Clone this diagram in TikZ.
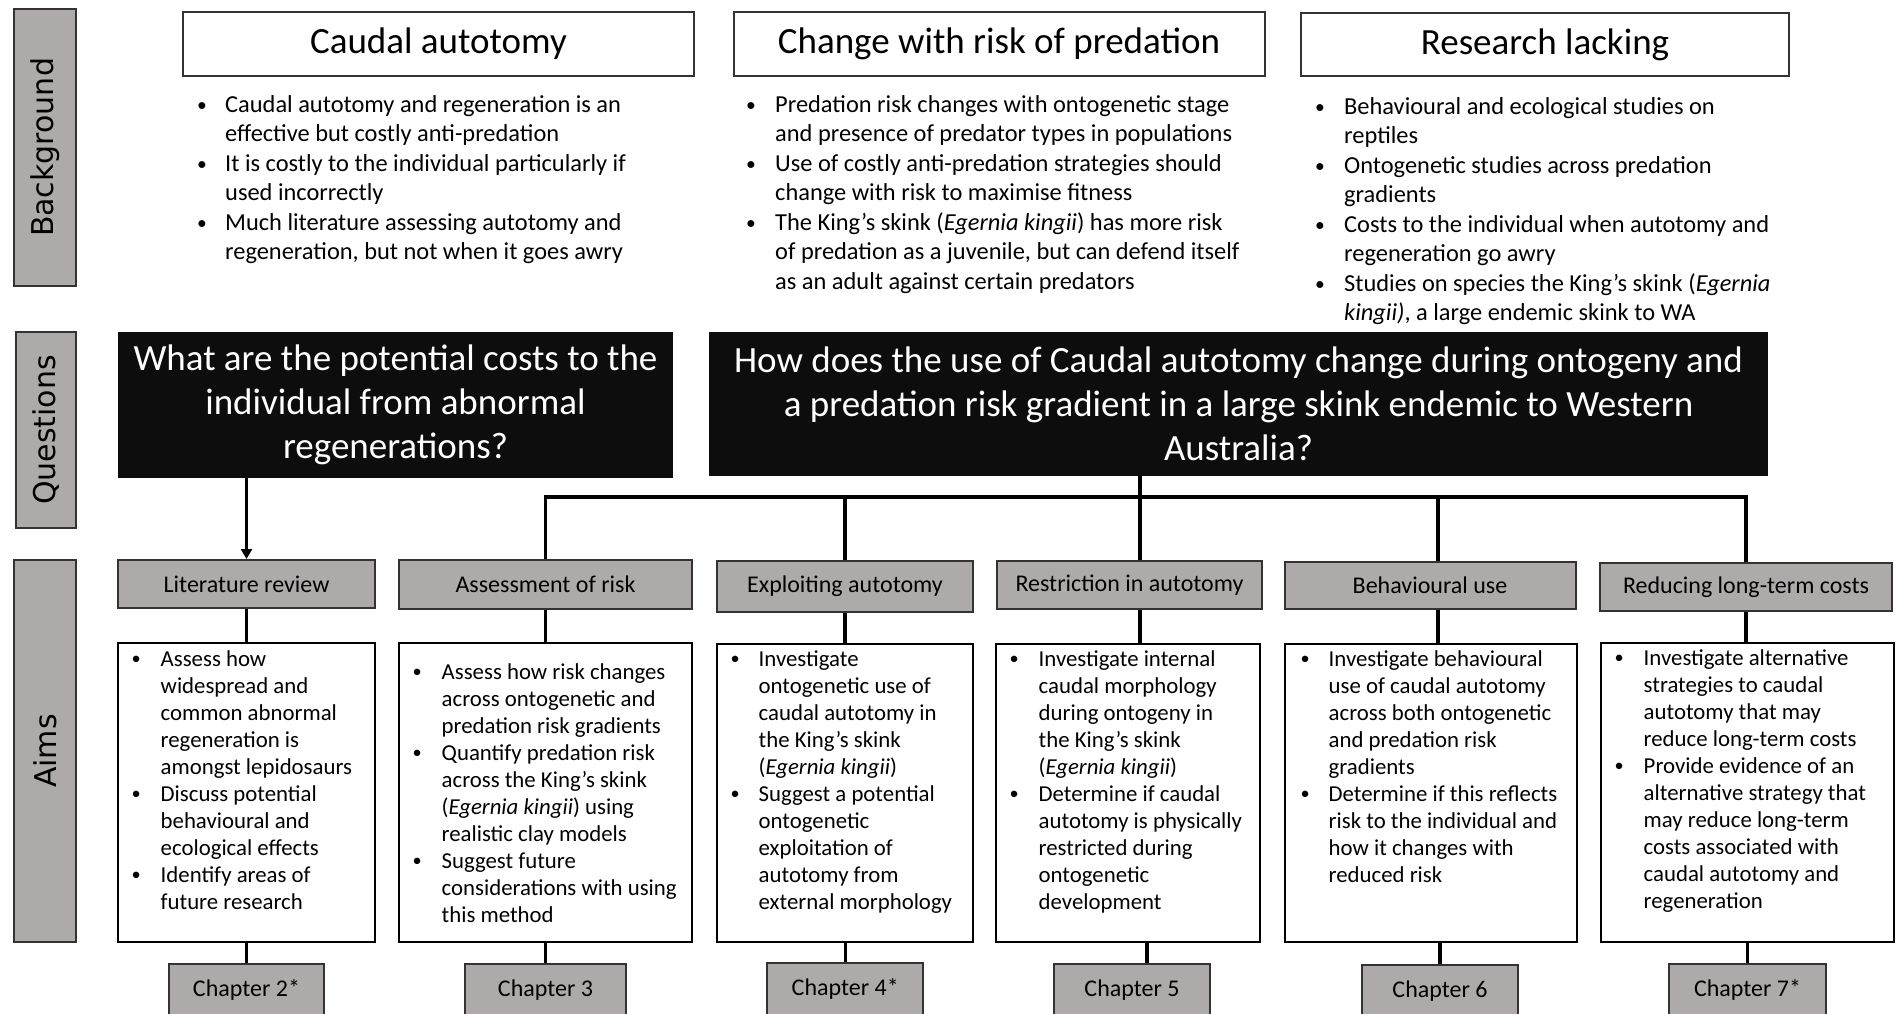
\documentclass[tikz,border=0pt]{standalone}
\usepackage{fontspec}
\setmainfont{Carlito}
\newfontfamily\lblfont{DejaVu Sans}
\usetikzlibrary{arrows.meta}
\definecolor{boxgray}{HTML}{AEAAAA}
\definecolor{qblack}{HTML}{0D0D0D}
\definecolor{edgegray}{HTML}{333333}
\newcommand\fsBg{\fontsize{24.4}{29.5}\selectfont}
\newcommand\fsHd{\fontsize{37}{44}\selectfont}
\newcommand\fsAim{\fontsize{22.8}{27}\selectfont}
\newcommand\fsAh{\fontsize{24}{29}\selectfont}
\newcommand\fsLbl{\fontsize{30}{36}\selectfont}
\newcommand\blist[2]{\begin{tabular}[t]{@{}p{#1}@{}l@{}}#2\end{tabular}}
\newcommand\bu{\raisebox{0.06em}{\scalebox{0.8}{•}}}
\tikzset{
  lbl/.style={rotate=90, draw=edgegray, line width=2.5pt, fill=boxgray, inner sep=0pt, font=\lblfont\fsLbl},
  hdr/.style={draw=edgegray, line width=2pt, fill=white, inner sep=0pt, font=\fsHd},
  qbox/.style={fill=qblack, text=white, inner sep=0pt, align=center, font=\fsHd},
  aimhead/.style={draw=edgegray, line width=2pt, fill=boxgray, inner sep=0pt, font=\fsAh},
  aimbox/.style={draw=black, line width=2pt, fill=white, inner sep=0pt},
  chap/.style={draw=edgegray, line width=2pt, fill=boxgray, inner sep=0pt, font=\fsAh},
  bultext/.style={anchor=base west, inner sep=0pt},
  conn/.style={line width=3.2pt, black},
}
\begin{document}
\begin{tikzpicture}[x=1pt, y=-1pt]
\useasboundingbox (0,0) rectangle (1901,1014);
\clip (0,0) rectangle (1901,1014);
\fill[white] (0,0) rectangle (1901,1014);

% side labels
\node[lbl, minimum width=277, minimum height=62] (Lb) at (45,147.5) {Background};
\node[lbl, minimum width=196, minimum height=60] (Lq) at (46,430) {Questions};
\node[lbl, minimum width=382, minimum height=62] (La) at (45,751) {Aims};

% background headers
\node[hdr, minimum width=511, minimum height=64] (hA) at (438.5,44) {Caudal autotomy};
\node[hdr, minimum width=531, minimum height=64] (hB) at (999,44) {Change with risk of predation};
\node[hdr, minimum width=488, minimum height=63] (hC) at (1545,44.5) {Research lacking};

% background bullets
\node[bultext, font=\fsBg] (tA) at (197,112.5) {\blist{28pt}{%
\bu & Caudal autotomy  and regeneration is an\\
  & effective but costly anti-predation\\
\bu & It is costly to the individual particularly if\\
  & used incorrectly\\
\bu & Much literature assessing autotomy and\\
  & regeneration, but not when it goes awry}};
\node[bultext, font=\fsBg] (tB) at (746,112.5) {\blist{29pt}{%
\bu & Predation risk changes with ontogenetic stage\\
  & and presence of predator types in populations\\
\bu & Use of costly anti-predation strategies should\\
  & change with risk to maximise fitness\\
\bu & The King’s skink (\textit{Egernia kingii}) has more risk\\
  & of predation as a juvenile, but can defend itself\\
  & as an adult against certain predators}};
\node[bultext, font=\fsBg] (tC) at (1315,114.5) {\blist{29pt}{%
\bu & Behavioural and ecological studies on\\
  & reptiles\\
\bu & Ontogenetic studies across predation\\
  & gradients\\
\bu & Costs to the individual when autotomy  and\\
  & regeneration go awry\\
\bu & Studies on species the King’s skink (\textit{Egernia}\\
  & \textit{kingii)}, a large endemic skink to WA}};

% questions
\node[qbox, minimum width=555, minimum height=146] (q1) at (395.5,405) {What are the potential costs to the\\individual from abnormal\\regenerations?};
\node[qbox, minimum width=1059, minimum height=144] (q2) at (1238.5,404) {How does the use of Caudal autotomy change during ontogeny and\\a predation risk gradient in a large skink endemic to Western\\Australia?};

% aims headers
\node[aimhead, minimum width=257, minimum height=48] (a1) at (246.5,584) {Literature review};
\node[aimhead, minimum width=293, minimum height=49] (a2) at (545.5,584.5) {Assessment of risk};
\node[aimhead, minimum width=256, minimum height=51] (a3) at (845,586.5) {Exploiting autotomy};
\node[aimhead, minimum width=265, minimum height=48] (a4) at (1129.5,585) {Restriction in autotomy};
\node[aimhead, minimum width=291, minimum height=47] (a5) at (1430,585.5) {Behavioural use};
\node[aimhead, minimum width=292, minimum height=48] (a6) at (1746,587) {Reducing long-term  costs};

% aims boxes
\node[aimbox, minimum width=257, minimum height=299] (b1) at (246.5,792.5) {};
\node[aimbox, minimum width=293, minimum height=299] (b2) at (545.5,792.5) {};
\node[aimbox, minimum width=256, minimum height=298] (b3) at (845,793) {};
\node[aimbox, minimum width=264, minimum height=298] (b4) at (1128,793) {};
\node[aimbox, minimum width=292, minimum height=298] (b5) at (1431,793) {};
\node[aimbox, minimum width=293, minimum height=299] (b6) at (1747,792.5) {};

\node[bultext, font=\fsAim] (t1) at (131.5,666) {\blist{29pt}{%
\bu & Assess how\\
  & widespread and\\
  & common abnormal\\
  & regeneration is\\
  & amongst lepidosaurs\\
\bu & Discuss potential\\
  & behavioural and\\
  & ecological effects\\
\bu & Identify areas of\\
  & future research}};
\node[bultext, font=\fsAim] (t2) at (412.5,679) {\blist{29pt}{%
\bu & Assess how risk changes\\
  & across ontogenetic and\\
  & predation risk gradients\\
\bu & Quantify predation risk\\
  & across the King’s skink\\
  & (\textit{Egernia kingii}) using\\
  & realistic clay models\\
\bu & Suggest future\\
  & considerations with using\\
  & this method}};
\node[bultext, font=\fsAim] (t3) at (730.5,666) {\blist{28pt}{%
\bu & Investigate\\
  & ontogenetic use of\\
  & caudal autotomy in\\
  & the King’s skink\\
  & (\textit{Egernia kingii})\\
\bu & Suggest a potential\\
  & ontogenetic\\
  & exploitation of\\
  & autotomy from\\
  & external morphology}};
\node[bultext, font=\fsAim] (t4) at (1009.5,666) {\blist{29pt}{%
\bu & Investigate internal\\
  & caudal morphology\\
  & during ontogeny in\\
  & the King’s skink\\
  & (\textit{Egernia kingii})\\
\bu & Determine if caudal\\
  & autotomy is physically\\
  & restricted during\\
  & ontogenetic\\
  & development}};
\node[bultext, font=\fsAim] (t5) at (1300.5,666) {\blist{28pt}{%
\bu & Investigate behavioural\\
  & use of caudal autotomy\\
  & across both ontogenetic\\
  & and predation risk\\
  & gradients\\
\bu & Determine if this reflects\\
  & risk to the individual and\\
  & how it changes with\\
  & reduced risk}};
\node[bultext, font=\fsAim] (t6) at (1614.5,665) {\blist{29pt}{%
\bu & Investigate alternative\\
  & strategies to caudal\\
  & autotomy that may\\
  & reduce long-term costs\\
\bu & Provide evidence of an\\
  & alternative strategy that\\
  & may reduce long-term\\
  & costs associated with\\
  & caudal autotomy and\\
  & regeneration}};

% chapters
\node[chap, minimum width=155, minimum height=52] (c1) at (246.5,990) {Chapter 2*};
\node[chap, minimum width=161, minimum height=52] (c2) at (545.5,990) {Chapter 3};
\node[chap, minimum width=156, minimum height=52] (c3) at (845.25,989) {Chapter 4*};
\node[chap, minimum width=156, minimum height=52] (c4) at (1132,990) {Chapter 5};
\node[chap, minimum width=156, minimum height=52] (c5) at (1440,991) {Chapter 6};
\node[chap, minimum width=157, minimum height=52] (c6) at (1747.5,990) {Chapter 7*};

% connectors
\coordinate (jn) at (1140,497);
\draw[conn, -{Triangle[length=10pt,width=11pt]}] (q1.south -| a1.north) -- (a1.north);
\draw[conn] (q2.south -| jn) -- (jn);
\draw[conn] (a2.north) -- (a2.north |- jn) -- (a6.north |- jn) -- (a6.north);
\draw[conn] (a3.north |- jn) -- (a3.north);
\draw[conn] (jn) -- (jn |- a4.north);
\draw[conn] ([xshift=8pt]a5.north |- jn) -- ([xshift=8pt]a5.north);

\draw[conn] (a1.south) -- (b1.north);
\draw[conn] (a2.south) -- (b2.north);
\draw[conn] (a3.south) -- (b3.north);
\draw[conn] (jn |- a4.south) -- (jn |- b4.north);
\draw[conn] ([xshift=8pt]a5.south) -- ([xshift=8pt]a5.south |- b5.north);
\draw[conn] (a6.south) -- (a6.south |- b6.north);

\draw[conn] (b1.south) -- (c1.north);
\draw[conn] (b2.south) -- (c2.north);
\draw[conn] (c3.north |- b3.south) -- (c3.north);
\draw[conn] ([xshift=15pt]c4.north |- b4.south) -- ([xshift=15pt]c4.north);
\draw[conn] (c5.north |- b5.south) -- (c5.north);
\draw[conn] (c6.north |- b6.south) -- (c6.north);
\end{tikzpicture}
\end{document}
